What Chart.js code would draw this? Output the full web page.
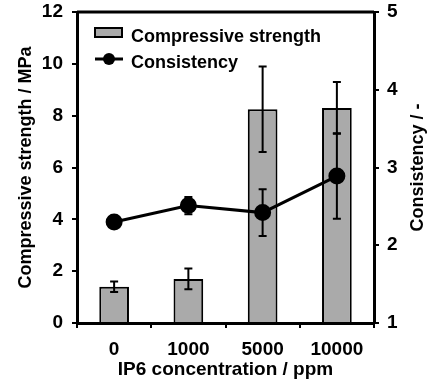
<!DOCTYPE html>
<html>
<head>
<meta charset="utf-8">
<script src="https://cdn.jsdelivr.net/npm/chart.js@4.4.1/dist/chart.umd.min.js"></script>
<style>
  body { margin: 0; background: #fff; }
  #wrap { width: 433px; height: 389px; }
</style>
</head>
<body>
<div id="wrap"><canvas id="chart" width="433" height="389"></canvas></div>
<script>
// values
const concentrations = ['0', '1000', '5000', '10000'];
const strength = [1.4, 1.7, 8.25, 8.3];
const strengthErr = [0.2, 0.4, 1.65, 1.0];
const consistency = [2.3, 2.51, 2.42, 2.89];
const consistencyErr = [0.05, 0.11, 0.3, 0.55];
const strengthTicks = [0, 2, 4, 6, 8, 10, 12];
const consistencyTicks = [1, 2, 3, 4, 5];

const FONT = "'Liberation Sans', Arial, sans-serif";

// error bars for both series, drawn right after each dataset
const errorBars = {
    id: 'errorBars',
    afterDatasetDraw(chart, args) {
        const ds = chart.data.datasets[args.index];
        if (!ds.errors) return;
        const meta = args.meta;
        const yScale = chart.scales[meta.yAxisID];
        const ctx = chart.ctx;
        ctx.save();
        ctx.strokeStyle = '#000';
        ctx.lineWidth = 2;
        meta.data.forEach((el, i) => {
            const v = ds.data[i], e = ds.errors[i];
            const x = el.x;
            const yHi = yScale.getPixelForValue(v + e);
            const yLo = yScale.getPixelForValue(v - e);
            ctx.beginPath();
            ctx.moveTo(x, yHi); ctx.lineTo(x, yLo);
            ctx.moveTo(x - 4, yHi); ctx.lineTo(x + 4, yHi);
            ctx.moveTo(x - 4, yLo); ctx.lineTo(x + 4, yLo);
            ctx.stroke();
        });
        ctx.restore();
    }
};

// frame top, legend inside the plot and the right axis title
const extras = {
    id: 'extras',
    afterDraw(chart) {
        const ctx = chart.ctx;
        const area = chart.chartArea;
        const bars = chart.data.datasets.find(d => d.type !== 'line');
        const line = chart.data.datasets.find(d => d.type === 'line');
        ctx.save();

        ctx.strokeStyle = '#000';
        ctx.lineWidth = 3;
        ctx.beginPath();
        ctx.moveTo(area.left, area.top);
        ctx.lineTo(area.right, area.top);
        ctx.stroke();

        // legend
        const lx = area.left + 18, ly = area.top;
        ctx.fillStyle = bars.backgroundColor;
        ctx.fillRect(lx, ly + 16, 27, 9);
        ctx.lineWidth = 2;
        ctx.strokeRect(lx, ly + 16, 27, 9);

        ctx.lineWidth = 3;
        ctx.beginPath();
        ctx.moveTo(lx, ly + 47);
        ctx.lineTo(lx + 28, ly + 47);
        ctx.stroke();
        ctx.fillStyle = '#000';
        ctx.beginPath();
        ctx.arc(lx + 14, ly + 47, 6, 0, Math.PI * 2);
        ctx.fill();

        ctx.font = 'bold 18px ' + FONT;
        ctx.textBaseline = 'alphabetic';
        ctx.textAlign = 'left';
        ctx.fillText(bars.label, lx + 36, ly + 30);
        ctx.fillText(line.label, lx + 36, ly + 56);

        // right title, reading upwards like the left one
        ctx.translate(418, (area.top + area.bottom) / 2);
        ctx.rotate(-Math.PI / 2);
        ctx.textAlign = 'center';
        ctx.textBaseline = 'middle';
        ctx.fillText('Consistency / -', 0, 0);
        ctx.restore();
    }
};

const ctx = document.getElementById('chart').getContext('2d');
new Chart(ctx, {
    type: 'bar',
    data: {
        labels: concentrations,
        datasets: [{
            type: 'line',
            label: 'Consistency',
            data: consistency,
            errors: consistencyErr,
            yAxisID: 'y1',
            borderColor: '#000',
            borderWidth: 3,
            backgroundColor: '#000',
            pointRadius: 7,
            pointBackgroundColor: '#000',
            pointBorderColor: '#000',
            tension: 0,
            order: 0
        }, {
            label: 'Compressive strength',
            data: strength,
            errors: strengthErr,
            yAxisID: 'y',
            backgroundColor: '#aaaaaa',
            borderColor: '#000',
            borderWidth: 2,
            borderSkipped: 'bottom',
            categoryPercentage: 1,
            barPercentage: 0.4,
            order: 1
        }]
    },
    options: {
        responsive: false,
        animation: false,
        layout: { padding: { top: 12, left: 0, right: 0, bottom: 0 } },
        plugins: {
            legend: { display: false },
            tooltip: { enabled: false }
        },
        scales: {
            x: {
                afterFit: s => { s.height = 66; s.paddingLeft = 0; s.paddingRight = 0; },
                grid: { drawOnChartArea: false, tickLength: 5, color: '#000', lineWidth: 2, offset: true },
                border: { color: '#000', width: 3 },
                ticks: { color: '#000', padding: 10, font: { family: FONT, size: 19, weight: 'bold' } },
                title: {
                    display: true,
                    text: 'IP6 concentration / ppm',
                    color: '#000',
                    padding: { top: 0, bottom: 8 },
                    font: { family: FONT, size: 19, weight: 'bold' }
                }
            },
            y: {
                position: 'left',
                min: 0,
                max: 12,
                afterFit: s => { s.width = 77; s.paddingTop = 0; s.paddingBottom = 0; },
                afterBuildTicks: s => { s.ticks = strengthTicks.map(v => ({ value: v })); },
                grid: { drawOnChartArea: false, tickLength: 5, color: '#000', lineWidth: 2 },
                border: { color: '#000', width: 3 },
                ticks: { color: '#000', padding: 9, font: { family: FONT, size: 19, weight: 'bold' } },
                title: {
                    display: true,
                    text: 'Compressive strength / MPa',
                    color: '#000',
                    padding: { top: 15, bottom: 0 },
                    font: { family: FONT, size: 18, weight: 'bold' }
                }
            },
            y1: {
                position: 'right',
                min: 1,
                max: 5,
                afterFit: s => { s.width = 59; s.paddingTop = 0; s.paddingBottom = 0; },
                afterBuildTicks: s => { s.ticks = consistencyTicks.map(v => ({ value: v })); },
                grid: { drawOnChartArea: false, tickLength: 5, color: '#000', lineWidth: 2 },
                border: { color: '#000', width: 3 },
                ticks: { color: '#000', padding: 8, font: { family: FONT, size: 19, weight: 'bold' } }
            }
        }
    },
    plugins: [errorBars, extras]
});
</script>
</body>
</html>
